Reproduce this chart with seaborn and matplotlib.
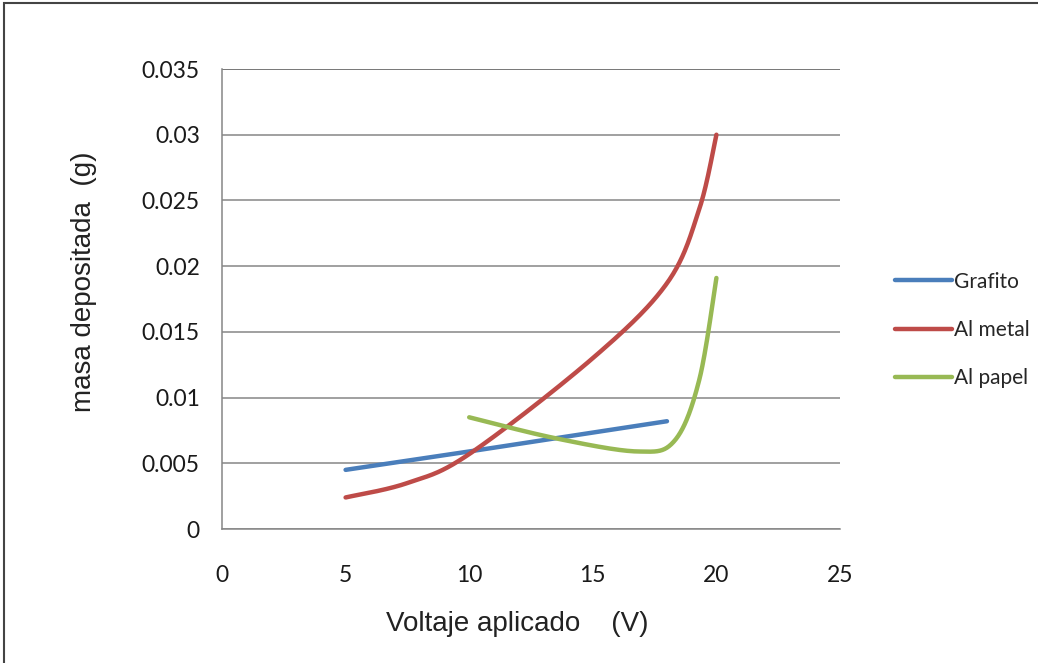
import numpy as np
import pandas as pd
import matplotlib
matplotlib.use("Agg")
import matplotlib.pyplot as plt
import seaborn as sns
from matplotlib.lines import Line2D

# ---- data ----
grafito_x = [5, 10, 18]
grafito_y = [0.0045, 0.0059, 0.0082]
metal_x = [5, 7.5, 10, 15, 18, 19.3, 20]
metal_y = [0.0024, 0.0035, 0.0057, 0.0130, 0.0187, 0.0243, 0.0300]
papel_x = [10, 13.5, 16.8, 18.3, 19.3, 20]
papel_y = [0.0085, 0.0069, 0.0059, 0.0067, 0.0113, 0.0191]
series_names = ["Grafito", "Al metal", "Al papel"]
colors = ["#4A7EBB", "#BE4B48", "#98B954"]
x_ticks = [0, 5, 10, 15, 20, 25]
y_ticks = [0, 0.005, 0.01, 0.015, 0.02, 0.025, 0.03, 0.035]
y_labels = ["0", "0.005", "0.01", "0.015", "0.02", "0.025", "0.03", "0.035"]

# Excel-like smoothing (Catmull-Rom Bezier in screen space)
SX = 618 / 25.0
SY = 460 / 0.035


def smooth(xs, ys, n=40):
    P = np.column_stack([np.array(xs) * SX, np.array(ys) * SY])
    if len(P) < 3:
        return list(xs), list(ys)
    out = []
    m = len(P)
    for i in range(m - 1):
        p0 = P[i - 1] if i > 0 else P[i]
        p1, p2 = P[i], P[i + 1]
        p3 = P[i + 2] if i + 2 < m else P[i + 1]
        c1 = p1 + (p2 - p0) / 6
        c2 = p2 - (p3 - p1) / 6
        t = np.linspace(0, 1, n)[:, None]
        seg = ((1 - t) ** 3) * p1 + 3 * ((1 - t) ** 2) * t * c1 + 3 * (1 - t) * t ** 2 * c2 + t ** 3 * p2
        out.append(seg if i == 0 else seg[1:])
    S = np.vstack(out)
    return S[:, 0] / SX, S[:, 1] / SY


frames = []
for name, xs, ys in zip(series_names, [grafito_x, metal_x, papel_x], [grafito_y, metal_y, papel_y]):
    if name == "Grafito":
        sx, sy = np.array(xs, float), np.array(ys, float)
    else:
        sx, sy = smooth(xs, ys)
    frames.append(pd.DataFrame({"x": sx, "y": sy, "serie": name}))
df = pd.concat(frames, ignore_index=True)

sns.set_style("white")
plt.rcParams["font.family"] = ["Liberation Sans", "DejaVu Sans"]

fig = plt.figure(figsize=(10.38, 6.63), dpi=100)
W, H = 1038, 663
ax = fig.add_axes([222 / W, 1 - 529 / H, (840 - 222) / W, (529 - 69) / H])

sns.lineplot(data=df, x="x", y="y", hue="serie", hue_order=series_names, palette=colors,
             sort=False, units="serie", estimator=None, linewidth=3.2, ax=ax, legend=False,
             solid_capstyle="round")

ax.set_xlim(0, 25)
ax.set_ylim(0, 0.035)
ax.set_xticks(x_ticks)
ax.set_yticks(y_ticks)
ax.set_yticklabels(y_labels)
ax.set_xticklabels([str(t) for t in x_ticks])
for lab in ax.get_xticklabels() + ax.get_yticklabels():
    lab.set_fontfamily(["Lato", "DejaVu Sans"])
    lab.set_fontsize(16.5)
    lab.set_color("#1a1a1a")
ax.tick_params(axis="both", direction="out", length=6, width=1, color="#868686")
ax.tick_params(axis="y", pad=10)
ax.tick_params(axis="x", pad=20)

ax.grid(axis="y", color="#868686", linewidth=1.1)
ax.grid(axis="x", visible=False)
ax.set_axisbelow(True)
for s in ["top", "right"]:
    ax.spines[s].set_visible(False)
for s in ["left", "bottom"]:
    ax.spines[s].set_color("#868686")
    ax.spines[s].set_linewidth(1.1)
ax.axhline(0.035, color="#444444", linewidth=1.3, zorder=0.5)

ax.set_xlabel("Voltaje aplicado    (V)", fontsize=20, color="#222222")
ax.set_ylabel("masa depositada  (g)", fontsize=20, color="#222222")
ax.xaxis.set_label_coords((517 - 222) / 618, -(611 - 529) / 460)
ax.yaxis.set_label_coords(-(222 - 97) / 618, (529 - 282) / 460)

# legend
handles = [Line2D([0], [0], color=c, lw=3.2) for c in colors]
leg = fig.legend(handles, series_names, loc="upper left", bbox_to_anchor=(876 / W, 1 - 253 / H),
                 frameon=False, handlelength=2.75, handletextpad=0.1, labelspacing=1.35,
                 prop={"family": ["Lato", "DejaVu Sans"], "size": 15})

# outer border (figure frame)
fig.patches.append(plt.Rectangle((4 / W, -0.01), 1.1, 1 - 3 / H + 0.01, transform=fig.transFigure,
                                 fill=False, edgecolor="#444444", linewidth=1.5))

fig.savefig("out.png", dpi=100)
